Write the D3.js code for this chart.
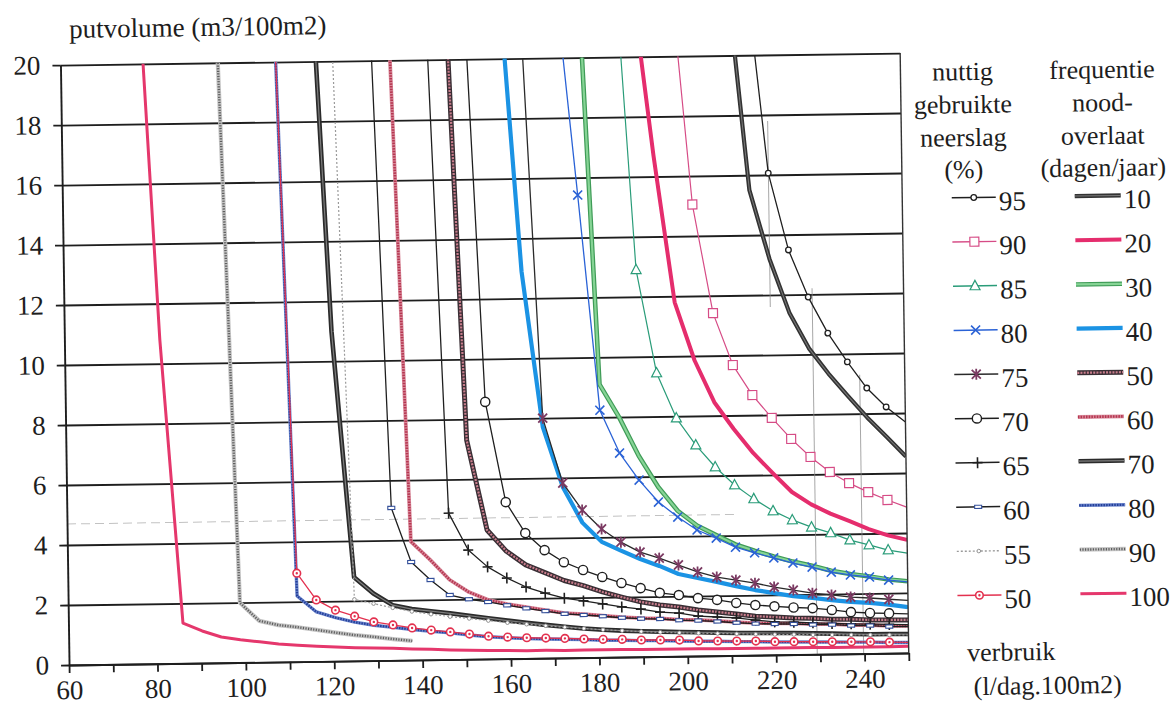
<!DOCTYPE html>
<html><head><meta charset="utf-8">
<script src="https://cdn.jsdelivr.net/npm/d3@7"></script>
<style>
html,body{margin:0;padding:0;background:#fff;}
svg{display:block;}
svg text{font-family:'Liberation Serif','DejaVu Serif','Noto Serif','Times New Roman',Times,serif;fill:#1d1d1d;}
</style></head><body>
<svg id="chart" width="1172" height="708"></svg>
<script>
// ---------------- data ----------------
const consumption = [60.00, 64.32, 68.64, 72.95, 77.27, 81.59, 85.91, 90.23, 94.55, 98.86, 103.18, 107.50, 111.82, 116.14, 120.45, 124.77, 129.09, 133.41, 137.73, 142.05, 146.36, 150.68, 155.00, 159.32, 163.64, 167.95, 172.27, 176.59, 180.91, 185.23, 189.55, 193.86, 198.18, 202.50, 206.82, 211.14, 215.45, 219.77, 224.09, 228.41, 232.73, 237.05, 241.36, 245.68, 250.00];
const yTicks = [0, 2, 4, 6, 8, 10, 12, 14, 16, 18, 20];
const xTicks = [60, 70, 80, 90, 100, 110, 120, 130, 140, 150, 160, 170, 180, 190, 200, 210, 220, 230, 240, 250];
const xTickLabels = [60, 80, 100, 120, 140, 160, 180, 200, 220, 240];

// nuttig gebruikte neerslag (%) – values start at consumption[pctStart[i]]
const pctLabels = ["95", "90", "85", "80", "75", "70", "65", "60", "55", "50"];
const pctStart  = [36, 32, 29, 26, 24, 21, 19, 16, 14, 11];
const p95 = [22.4, 16.06, 13.49, 11.91, 10.70, 9.73, 8.85, 8.21, 7.70];
const p90 = [22.7, 15.05, 11.42, 9.68, 8.67, 7.90, 7.19, 6.58, 6.07, 5.69, 5.38, 5.11, 4.86];
const p85 = [24.05, 12.90, 9.45, 7.94, 7.03, 6.29, 5.68, 5.21, 4.80, 4.49, 4.24, 4.04, 3.79, 3.62, 3.44, 3.33];
const p80 = [22.3, 15.42, 8.24, 6.80, 5.89, 5.15, 4.64, 4.20, 3.92, 3.61, 3.41, 3.23, 3.05, 2.91, 2.73, 2.63, 2.55, 2.44, 2.37];
const p75 = [23.4, 8.00, 5.83, 4.92, 4.28, 3.83, 3.49, 3.28, 3.04, 2.80, 2.62, 2.51, 2.40, 2.26, 2.15, 2.04, 1.97, 1.89, 1.85, 1.80, 1.75];
const p70 = [24.8, 8.57, 5.22, 4.18, 3.60, 3.19, 2.92, 2.68, 2.47, 2.29, 2.12, 2.04, 1.93, 1.86, 1.75, 1.67, 1.62, 1.57, 1.54, 1.47, 1.39, 1.35, 1.33, 1.30];
const p65 = [24.9, 4.88, 3.64, 3.07, 2.69, 2.38, 2.17, 1.99, 1.89, 1.78, 1.67, 1.59, 1.48, 1.44, 1.33, 1.29, 1.25, 1.17, 1.10, 1.08, 1.05, 1.02, 1.00, 0.98, 0.96, 0.94];
const p60 = [26.5, 5.08, 3.27, 2.66, 2.15, 2.00, 1.90, 1.78, 1.67, 1.57, 1.47, 1.42, 1.37, 1.31, 1.27, 1.25, 1.20, 1.18, 1.14, 1.09, 1.05, 1.03, 1.02, 0.99, 0.98, 0.94, 0.93, 0.89, 0.88];
const p55 = [26.5, 2.05, 1.90, 1.75, 1.62, 1.52, 1.43, 1.36, 1.28, 1.20, 1.14, 1.08, 1.02, 0.97, 0.92, 0.88, 0.84, 0.81, 0.78, 0.76, 0.74, 0.72, 0.70, 0.68, 0.67, 0.65, 0.64, 0.63, 0.62, 0.61, 0.60];
const p50 = [26.5, 2.95, 2.05, 1.70, 1.49, 1.29, 1.18, 1.07, 0.99, 0.92, 0.84, 0.76, 0.72, 0.69, 0.67, 0.65, 0.62, 0.60, 0.59, 0.56, 0.55, 0.54, 0.50, 0.49, 0.48, 0.47, 0.44, 0.43, 0.42, 0.41, 0.40, 0.39, 0.37, 0.35];

// frequentie noodoverlaat (dagen/jaar)
const freqLabels = ["10", "20", "30", "40", "50", "60", "70", "80", "90", "100"];
const freqStart  = [35, 30, 27, 23, 20, 17, 13, 11, 8, 4];
const f10  = [22.3, 15.5, 13.2, 11.4, 10.2, 9.35, 8.60, 7.87, 7.22, 6.55];
const f20  = [22.3, 16.7, 11.8, 9.85, 8.45, 7.55, 6.74, 6.07, 5.42, 5.00, 4.68, 4.42, 4.15, 3.93, 3.77];
const f30  = [25.3, 9.10, 8.00, 6.70, 5.65, 4.85, 4.35, 4.02, 3.70, 3.48, 3.28, 3.10, 2.95, 2.78, 2.66, 2.57, 2.46, 2.39];
const f40  = [22.65, 12.9, 7.70, 5.70, 4.50, 3.85, 3.55, 3.26, 3.02, 2.74, 2.60, 2.46, 2.31, 2.17, 2.06, 1.95, 1.88, 1.80, 1.73, 1.69, 1.62, 1.53];
const f50  = [25.7, 7.30, 4.30, 3.58, 3.12, 2.85, 2.58, 2.40, 2.18, 2.00, 1.83, 1.72, 1.64, 1.53, 1.46, 1.38, 1.30, 1.26, 1.22, 1.20, 1.16, 1.15, 1.12, 1.11, 1.10];
const f60  = [25.8, 3.95, 3.33, 2.66, 2.24, 1.97, 1.82, 1.71, 1.60, 1.49, 1.45, 1.39, 1.33, 1.29, 1.27, 1.22, 1.20, 1.16, 1.11, 1.07, 1.05, 1.04, 1.01, 1.00, 0.96, 0.95, 0.91, 0.90];
const f70  = [25.6, 11.0, 2.79, 2.24, 1.84, 1.70, 1.62, 1.54, 1.45, 1.36, 1.27, 1.19, 1.11, 1.04, 0.97, 0.92, 0.88, 0.85, 0.83, 0.81, 0.79, 0.77, 0.75, 0.74, 0.73, 0.72, 0.70, 0.68, 0.66, 0.64, 0.64, 0.63];
const f80  = [26.8, 2.19, 1.65, 1.45, 1.29, 1.18, 1.10, 1.02, 0.95, 0.89, 0.81, 0.74, 0.70, 0.66, 0.64, 0.62, 0.60, 0.57, 0.56, 0.54, 0.53, 0.51, 0.49, 0.48, 0.46, 0.45, 0.43, 0.42, 0.41, 0.40, 0.39, 0.38, 0.36, 0.35];
const f90  = [25.8, 1.99, 1.38, 1.23, 1.15, 1.05, 0.95, 0.86, 0.79, 0.71, 0.64];
const f100 = [24.5, 10.8, 1.34, 1.07, 0.86, 0.76, 0.68, 0.60, 0.55, 0.51, 0.47, 0.44, 0.42, 0.40, 0.37, 0.35, 0.32, 0.30, 0.28, 0.27, 0.26, 0.26, 0.25, 0.25, 0.25, 0.25, 0.24, 0.24, 0.24, 0.24, 0.23, 0.23, 0.23, 0.23, 0.23, 0.23, 0.22, 0.22, 0.22, 0.22, 0.22];

// faint hand-drawn reference lines on the scan: [x, yFrom, yTo]
const dropLines = [[219.8, 17.8, 11.6], [229.3, 12.2, 0], [239.8, 9.3, 0]];
const faintLevel = [4.7, 60, 212];

// ---------------- styles ----------------
const pctValues = [p95, p90, p85, p80, p75, p70, p65, p60, p55, p50];
const pctStyle = [
  {color: "#1f1f1f", w: 1.3, marker: "circleSmall", mcolor: "#1f1f1f"},
  {color: "#d64c86", w: 1.2, marker: "square",      mcolor: "#d64c86"},
  {color: "#2a9c79", w: 1.2, marker: "triangle",    mcolor: "#2a9c79"},
  {color: "#2a62d6", w: 1.3, marker: "times",       mcolor: "#2a62d6"},
  {color: "#2a2a2a", w: 1.3, marker: "asterisk",    mcolor: "#7b3a62"},
  {color: "#1f1f1f", w: 1.3, marker: "circleBig",   mcolor: "#1f1f1f"},
  {color: "#1f1f1f", w: 1.3, marker: "plus",        mcolor: "#1f1f1f"},
  {color: "#1f1f1f", w: 1.3, marker: "rect",        mcolor: "#34509a"},
  {color: "#9a9a9a", w: 1.2, marker: "dot",         mcolor: "#888", dash: "2,2"},
  {color: "#e3314f", w: 1.3, marker: "ring",        mcolor: "#e3314f"}
];
const freqValues = [f10, f20, f30, f40, f50, f60, f70, f80, f90, f100];
const freqStyle = [
  {outer: "#333333", ow: 4.2, inner: "#7a7a7a", iw: 1.0},
  {outer: "#e52d6d", ow: 4.0},
  {outer: "#3f9b57", ow: 4.6, inner: "#86d495", iw: 2.2},
  {outer: "#1b93e4", ow: 4.2},
  {outer: "#3a2f35", ow: 5.0, inner: "#c97d8c", iw: 2.2, idash: "2,1.2"},
  {outer: "#d8899a", ow: 3.8, inner: "#b53650", iw: 2.6, idash: "1.5,1.2"},
  {outer: "#2b2b2b", ow: 4.6, inner: "#7d7d7d", iw: 1.2},
  {outer: "#6b84cc", ow: 3.4, inner: "#233f98", iw: 2.2, idash: "1.5,1.2"},
  {outer: "#c4c4c4", ow: 4.2, inner: "#5e5e5e", iw: 2.4, idash: "1.2,1.4"},
  {outer: "#e5376c", ow: 3.0}
];

// ---------------- drawing ----------------
const FONT = "'Liberation Serif','DejaVu Serif','Noto Serif','Times New Roman',Times,serif";
const svg = d3.select("#chart");
const root = svg.append("g").attr("transform", "rotate(-0.82,485,359)");

const x = d3.scaleLinear().domain([60, 250]).range([64.7, 904.5]);
const y = d3.scaleLinear().domain([0, 20]).range([659, 59]);
const FS = 27;

const toPoints = (vals, start) => vals.map((v, i) => ({x: consumption[start + i], y: v}))
  .filter(d => d.x !== undefined);

root.append("clipPath").attr("id", "plotClip").append("rect")
  .attr("x", x(60)).attr("y", y(20)).attr("width", x(250) - x(60)).attr("height", y(0) - y(20) + 2);

// grid lines
root.append("g").attr("transform", `translate(${x(60)},0)`)
  .call(d3.axisLeft(y).tickValues(yTicks).tickSize(-(x(250) - x(60))).tickFormat(""))
  .call(g => g.select(".domain").remove())
  .call(g => g.selectAll("line").attr("stroke", "#1e1e1e").attr("stroke-width", 1.8));

// faint scan lines
const faint = root.append("g").attr("clip-path", "url(#plotClip)");
faint.append("line")
  .attr("x1", x(faintLevel[1])).attr("x2", x(faintLevel[2]))
  .attr("y1", y(faintLevel[0])).attr("y2", y(faintLevel[0]))
  .attr("stroke", "#9a9a9a").attr("stroke-width", 1).attr("stroke-dasharray", "9,5").attr("opacity", 0.6);
faint.selectAll("line.drop").data(dropLines).join("line").attr("class", "drop")
  .attr("x1", d => x(d[0])).attr("x2", d => x(d[0]))
  .attr("y1", d => y(d[1])).attr("y2", d => y(d[2]))
  .attr("stroke", "#8a8a8a").attr("stroke-width", 1).attr("opacity", 0.75);

const line = d3.line().x(d => x(d.x)).y(d => y(d.y));
const plot = root.append("g").attr("clip-path", "url(#plotClip)");

freqValues.forEach((vals, i) => {
  const pts = toPoints(vals, freqStart[i]);
  const st = freqStyle[i];
  plot.append("path").attr("d", line(pts)).attr("fill", "none")
    .attr("stroke", st.outer).attr("stroke-width", st.ow).attr("stroke-linejoin", "round");
  if (st.inner) {
    plot.append("path").attr("d", line(pts)).attr("fill", "none")
      .attr("stroke", st.inner).attr("stroke-width", st.iw)
      .attr("stroke-dasharray", st.idash || null).attr("stroke-linejoin", "round");
  }
});

function drawMarker(g, type, cx, cy, color) {
  switch (type) {
    case "circleSmall":
      g.append("circle").attr("cx", cx).attr("cy", cy).attr("r", 2.8)
        .attr("fill", "#fff").attr("stroke", color).attr("stroke-width", 1.3); break;
    case "circleBig":
      g.append("circle").attr("cx", cx).attr("cy", cy).attr("r", 4.6)
        .attr("fill", "#fff").attr("stroke", color).attr("stroke-width", 1.4); break;
    case "ring":
      g.append("circle").attr("cx", cx).attr("cy", cy).attr("r", 3.8)
        .attr("fill", "#fff").attr("stroke", color).attr("stroke-width", 1.6);
      g.append("circle").attr("cx", cx).attr("cy", cy).attr("r", 1.2).attr("fill", color); break;
    case "square":
      g.append("rect").attr("x", cx - 4.5).attr("y", cy - 4.5).attr("width", 9).attr("height", 9)
        .attr("fill", "#fff").attr("stroke", color).attr("stroke-width", 1.2); break;
    case "triangle":
      g.append("path").attr("d", `M${cx},${cy - 5.5}L${cx + 5},${cy + 3.8}L${cx - 5},${cy + 3.8}Z`)
        .attr("fill", "#fff").attr("stroke", color).attr("stroke-width", 1.2); break;
    case "times":
      g.append("path").attr("d", `M${cx - 4.5},${cy - 4.5}L${cx + 4.5},${cy + 4.5}M${cx - 4.5},${cy + 4.5}L${cx + 4.5},${cy - 4.5}`)
        .attr("stroke", color).attr("stroke-width", 1.6); break;
    case "asterisk":
      g.append("path").attr("d", `M${cx - 4.5},${cy - 4.5}L${cx + 4.5},${cy + 4.5}M${cx - 4.5},${cy + 4.5}L${cx + 4.5},${cy - 4.5}M${cx},${cy - 5.5}L${cx},${cy + 5.5}`)
        .attr("stroke", color).attr("stroke-width", 1.8); break;
    case "plus":
      g.append("path").attr("d", `M${cx},${cy - 5.5}L${cx},${cy + 5.5}M${cx - 5},${cy}L${cx + 5},${cy}`)
        .attr("stroke", color).attr("stroke-width", 1.6); break;
    case "rect":
      g.append("rect").attr("x", cx - 3.5).attr("y", cy - 1.6).attr("width", 7).attr("height", 3.2)
        .attr("fill", "#fff").attr("stroke", color).attr("stroke-width", 1.1); break;
    case "dot":
      g.append("circle").attr("cx", cx).attr("cy", cy).attr("r", 1.8)
        .attr("fill", "#fff").attr("stroke", color).attr("stroke-width", 0.9); break;
  }
}

const markerLayer = root.append("g");
pctValues.forEach((vals, i) => {
  const pts = toPoints(vals, pctStart[i]);
  const st = pctStyle[i];
  plot.append("path").attr("d", line(pts)).attr("fill", "none")
    .attr("stroke", st.color).attr("stroke-width", st.w)
    .attr("stroke-dasharray", st.dash || null).attr("stroke-linejoin", "round");
  pts.filter(d => d.y <= 20 && d.x < 250).forEach(d => drawMarker(markerLayer, st.marker, x(d.x), y(d.y), st.mcolor));
});

// axes
const yAxis = root.append("g").attr("transform", `translate(${x(60)},0)`)
  .call(d3.axisLeft(y).tickValues(yTicks).tickSize(8).tickSizeOuter(0).tickPadding(12));
const xAxis = root.append("g").attr("transform", `translate(0,${y(0)})`)
  .call(d3.axisBottom(x).tickValues(xTicks).tickSize(8).tickSizeOuter(0).tickPadding(7)
    .tickFormat(d => xTickLabels.includes(d) ? d : ""));
[yAxis, xAxis].forEach(a => {
  a.attr("font-family", FONT).attr("font-size", FS);
  a.select(".domain").attr("stroke", "#1e1e1e").attr("stroke-width", 1.9);
  a.selectAll(".tick line").attr("stroke", "#1e1e1e").attr("stroke-width", 1.8);
  a.selectAll(".tick text").attr("font-size", FS).attr("fill", "#1d1d1d").attr("font-family", FONT);
});
root.append("line").attr("x1", x(250)).attr("x2", x(250)).attr("y1", y(0)).attr("y2", y(20))
  .attr("stroke", "#333").attr("stroke-width", 1.4);

const T = (xx, yy, s, anchor, size) => root.append("text").attr("x", xx).attr("y", yy)
  .attr("text-anchor", anchor || "start").attr("font-size", size || FS).attr("font-family", FONT).text(s);

// axis titles
T(74, 32, "putvolume (m3/100m2)", "start", FS);
T(1007, 668, "verbruik", "middle", FS - 1);
T(1043, 702, "(l/dag.100m2)", "middle", FS - 1);

// legend titles
const leftTitle = ["nuttig", "gebruikte", "neerslag", "(%)"];
const rightTitle = ["frequentie", "nood-", "overlaat", "(dagen/jaar)"];
const titleY = [87, 120, 153, 185];
leftTitle.forEach((t, i) => T(966.5, titleY[i], t, "middle", FS - 1));
rightTitle.forEach((t, i) => T(1106, titleY[i], t, "middle", FS - 1));

// legend rows
const legY0 = 204.5, legStep = 44.2;
const legend = root.append("g");
pctLabels.forEach((lab, i) => {
  const ly = legY0 + i * legStep, st = pctStyle[i];
  legend.append("line").attr("x1", 954).attr("x2", 998).attr("y1", ly).attr("y2", ly)
    .attr("stroke", st.color).attr("stroke-width", st.w + 0.2).attr("stroke-dasharray", st.dash || null);
  drawMarker(legend, st.marker, 976, ly, st.mcolor);
  T(1001, ly + 13, lab, "start", FS);
});
freqLabels.forEach((lab, i) => {
  const ly = legY0 + i * legStep, st = freqStyle[i];
  legend.append("line").attr("x1", 1077).attr("x2", 1123).attr("y1", ly).attr("y2", ly)
    .attr("stroke", st.outer).attr("stroke-width", st.ow);
  if (st.inner) legend.append("line").attr("x1", 1077).attr("x2", 1123).attr("y1", ly).attr("y2", ly)
    .attr("stroke", st.inner).attr("stroke-width", st.iw).attr("stroke-dasharray", st.idash || null);
  T(1126, ly + 13, lab, "start", FS);
});
</script>
</body></html>
